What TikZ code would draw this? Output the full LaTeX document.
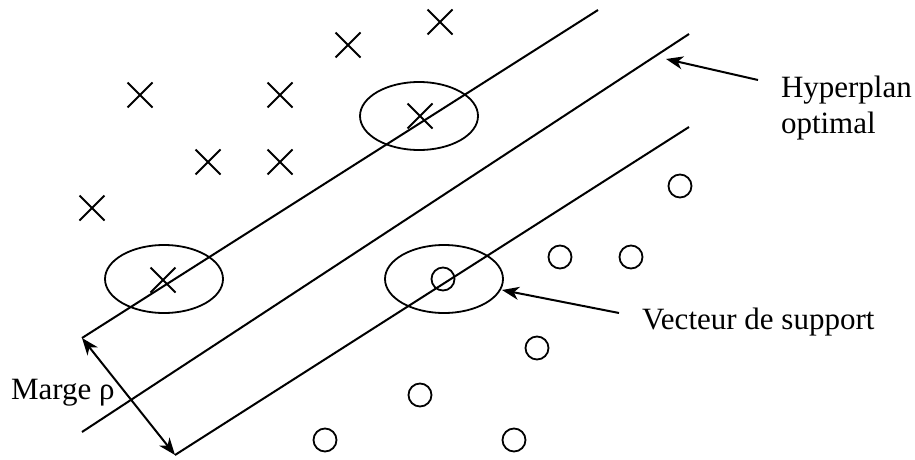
\documentclass[tikz,border=0pt]{standalone}
\usepackage{fontspec}
\setmainfont{Liberation Serif}
\usetikzlibrary{arrows.meta,shapes.misc,shapes.geometric}
\begin{document}
\begin{tikzpicture}[x=1pt,y=-1pt,
  line width=2pt,
  head/.tip={Stealth[length=17pt,width=13pt,inset=5pt]},
  classx/.style={cross out,draw,minimum size=23pt,inner sep=0pt,line width=2pt},
  classo/.style={circle,draw,minimum size=23pt,inner sep=0pt,line width=1.8pt},
  halo/.style={ellipse,draw,minimum width=118pt,minimum height=68pt,inner sep=0pt,line width=1.8pt},
  lbl/.style={inner sep=0pt,font=\fontsize{31}{36}\selectfont},
  pointer/.style={-head,line width=2pt}]
\useasboundingbox (0,0) rectangle (915,460);

% the two margin lines and the separating hyperplane
\coordinate (ua) at (82,338);  \coordinate (ub) at (598,10);
\coordinate (ma) at (82,432);  \coordinate (mb) at (689,34);
\coordinate (la) at (175,455); \coordinate (lb) at (689,127);
\draw (ua) -- (ub);
\draw (ma) -- (mb);
\draw (la) -- (lb);

% class of crosses
\node[classx] (x1) at (140,95) {};
\node[classx] (x2) at (280,95) {};
\node[classx] (x3) at (348,45) {};
\node[classx] (x4) at (440,22) {};
\node[classx] (x5) at (208,162) {};
\node[classx] (x6) at (280,162) {};
\node[classx] (x7) at (92,208) {};
\node[classx] (x8) at (163,280) {};
\node[classx] (x9) at (420,116) {};

% class of circles
\node[classo] (o1) at (680,186) {};
\node[classo] (o2) at (560,257) {};
\node[classo] (o3) at (631,257) {};
\node[classo] (o4) at (443,279) {};
\node[classo] (o5) at (537,348) {};
\node[classo] (o6) at (420,395) {};
\node[classo] (o7) at (325,440) {};
\node[classo] (o8) at (514,440) {};

% support vectors
\node[halo] (s1) at (164,279) {};
\node[halo] (s2) at (419,116) {};
\node[halo] (s3) at (444,279) {};

% labels
\node[lbl,anchor=base west,align=left] (hyp) at (780,133) {Hyperplan\\optimal};
\node[lbl,anchor=base west] (vec) at (641,329) {Vecteur de support};
\node[lbl,anchor=base west] (marge) at (10,399) {Marge ρ};

\coordinate (hyptail) at (758,80);
\coordinate (hyptip) at (666,59);
\coordinate (vectail) at (619,313);
\coordinate (vectip) at (502,290);
\draw[pointer] (hyptail) -- (hyptip);
\draw[pointer] (vectail) -- (vectip);
\draw[head-head,line width=2pt] (ua) -- (la);
\end{tikzpicture}
\end{document}
